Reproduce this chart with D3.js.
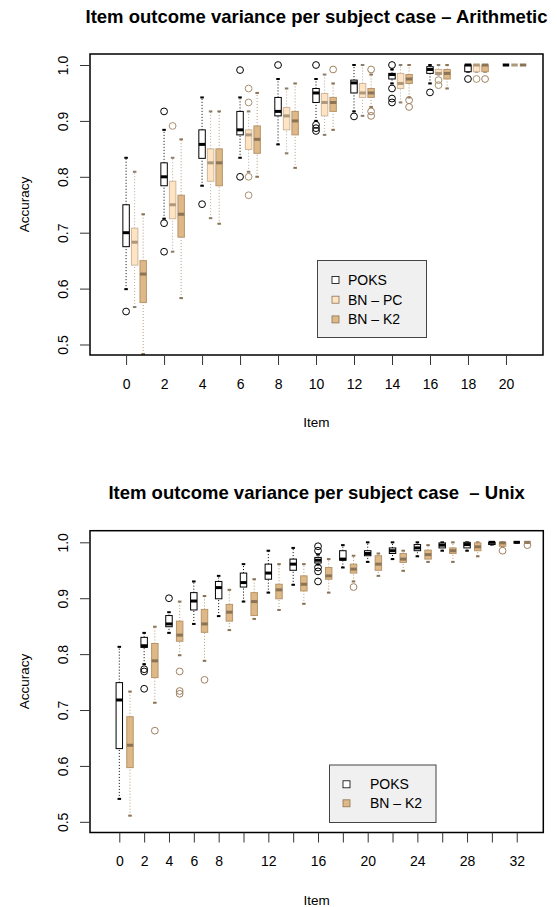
<!DOCTYPE html>
<html><head><meta charset="utf-8">
<script src="https://cdn.jsdelivr.net/npm/d3@7"></script>
<style>
body{margin:0;background:#fff}
svg{display:block;font-family:"Liberation Sans",Arial,Helvetica,sans-serif}
</style>
</head><body>
<svg id="chart" width="557" height="907"></svg>
<script>
// ---------- Arithmetic panel data: [lowWhisker, Q1, median, Q3, highWhisker]
const arithItems = [0,2,4,6,8,10,12,14,16,18,20];
const arithTicks = [0,2,4,6,8,10,12,14,16,18,20];
const arithPOKS = [
  [0.599,0.675,0.700,0.750,0.834],[0.725,0.784,0.800,0.825,0.884],[0.784,0.833,0.858,0.884,0.942],
  [0.834,0.875,0.884,0.917,0.942],[0.858,0.909,0.917,0.942,0.975],[0.900,0.933,0.950,0.958,0.975],
  [0.917,0.950,0.968,0.973,1.000],[0.967,0.975,0.983,0.985,0.992],[0.967,0.985,0.992,0.997,1.000],
  [0.988,0.988,1.000,1.000,1.000],[1,1,1,1,1]];
const arithPOKSOut = [[0.559],[0.917,0.717,0.666],[0.751],[0.991,0.800],[1.0],[1.0,0.893,0.887,0.882],
  [0.908],[1.0,0.958,0.940,0.933],[0.951],[0.975],[]];
const arithPC = [
  [0.567,0.642,0.683,0.708,0.809],[0.666,0.725,0.750,0.792,0.834],[0.726,0.792,0.825,0.850,0.917],
  [0.809,0.849,0.875,0.884,0.917],[0.842,0.884,0.909,0.924,0.958],[0.875,0.909,0.933,0.949,0.983],
  [0.909,0.942,0.950,0.967,1.000],[0.933,0.958,0.967,0.985,1.000],[0.983,0.983,0.985,0.992,1.000],
  [0.988,0.988,1.000,1.000,1.000],[1,1,1,1,1]];
const arithPCOut = [[],[0.891],[],[0.958,0.933,0.800,0.767],[],[],[],[],[0.973,0.964],[0.975],[]];
const arithK2 = [
  [0.483,0.575,0.626,0.650,0.733],[0.583,0.692,0.733,0.767,0.867],[0.716,0.784,0.825,0.850,0.917],
  [0.800,0.842,0.867,0.891,0.950],[0.816,0.875,0.900,0.917,0.967],[0.884,0.917,0.933,0.942,0.967],
  [0.925,0.942,0.950,0.958,0.983],[0.942,0.967,0.975,0.983,1.000],[0.958,0.975,0.985,0.992,1.000],
  [0.988,0.988,1.000,1.000,1.000],[1,1,1,1,1]];
const arithK2Out = [[],[],[],[],[],[0.992],[0.992,0.917,0.909],[0.937,0.925],[],[0.975],[]];

// ---------- Unix panel data
const unixItems = [0,2,4,6,8,10,12,14,16,18,20,22,24,26,28,30,32];
const unixTicks = [0,2,4,6,8,10,12,14,16,18,20,22,24,26,28,30,32];
const unixTickLabels = [0,2,4,6,8,12,16,20,24,28,32];
const unixPOKS = [
  [0.541,0.631,0.718,0.749,0.813],[0.782,0.812,0.815,0.830,0.838],[0.838,0.849,0.854,0.869,0.875],
  [0.854,0.879,0.895,0.910,0.930],[0.868,0.899,0.919,0.930,0.940],[0.894,0.920,0.928,0.945,0.961],
  [0.910,0.934,0.945,0.961,0.985],[0.924,0.950,0.961,0.970,0.990],[0.960,0.963,0.968,0.973,0.978],
  [0.955,0.968,0.970,0.985,0.995],[0.965,0.976,0.980,0.985,1.000],[0.970,0.980,0.985,0.990,1.000],
  [0.975,0.985,0.990,0.996,1.000],[0.985,0.990,0.995,0.999,1.000],[0.985,0.990,0.996,1.000,1.000],
  [0.996,0.996,1.000,1.000,1.000],[1,1,1,1,1]];
const unixPOKSOut = [[],[0.773,0.769,0.738],[0.900],[],[],[],[],[],[0.993,0.985,0.955,0.948,0.930],
  [],[],[],[],[],[],[],[]];
const unixK2 = [
  [0.511,0.597,0.637,0.688,0.733],[0.713,0.758,0.788,0.819,0.849],[0.798,0.823,0.834,0.859,0.894],
  [0.788,0.839,0.854,0.880,0.904],[0.843,0.859,0.875,0.889,0.915],[0.863,0.869,0.894,0.910,0.934],
  [0.879,0.899,0.915,0.925,0.961],[0.890,0.913,0.925,0.940,0.961],[0.910,0.934,0.940,0.955,0.970],
  [0.930,0.945,0.952,0.961,0.976],[0.940,0.950,0.961,0.976,0.980],[0.949,0.964,0.970,0.980,0.985],
  [0.965,0.970,0.978,0.986,0.995],[0.965,0.980,0.985,0.990,1.000],[0.975,0.985,0.992,0.999,1.000],
  [0.993,0.993,0.999,1.000,1.000],[1,1,1,1,1]];
const unixK2Out = [[],[0.663],[0.769,0.734,0.729],[0.754],[],[],[],[],[],[0.920],[],[],[],[],[],[0.985],[0.995]];

const yTicks = [0.5,0.6,0.7,0.8,0.9,1.0];

// ---------- styles
const STY = {
  poks:{fill:"#ffffff",stroke:"#000000",med:"#000000",wh:"#000000",cap:"#000000",out:"#000000"},
  pc:{fill:"#FFE4C4",stroke:"#CDB79E",med:"#AD987C",wh:"#BBAA92",cap:"#8B7D6B",out:"#A8906F"},
  k2:{fill:"#DEB887",stroke:"#B8956A",med:"#8B7355",wh:"#B29A7A",cap:"#8B7355",out:"#A08060"}
};

const svg = d3.select("#chart");

function drawPanel(o){
  const g = svg.append("g");
  const x = d3.scaleLinear().domain(o.xDomain).range([o.left,o.right]);
  const y = d3.scaleLinear().domain(o.yDomain).range([o.bottom,o.top]);
  o.series.forEach(s=>{
    const st = STY[s.key];
    const rows = s.stats.map((d,i)=>({it:o.items[i], d, out:s.out[i]}));
    const cx = r => x(r.it + s.off);
    const hw = (x(o.boxW) - x(0))/2;
    const sg = g.append("g");
    sg.selectAll("line.wl").data(rows).join("line").attr("class","wl")
      .attr("x1",cx).attr("x2",cx).attr("y1",r=>y(r.d[0])).attr("y2",r=>y(r.d[1]))
      .attr("stroke",st.wh).attr("stroke-dasharray","1,2");
    sg.selectAll("line.wh").data(rows).join("line").attr("class","wh")
      .attr("x1",cx).attr("x2",cx).attr("y1",r=>y(r.d[3])).attr("y2",r=>y(r.d[4]))
      .attr("stroke",st.wh).attr("stroke-dasharray","1,2");
    [0,4].forEach(k=>{
      sg.selectAll("line.cap"+k).data(rows).join("line").attr("class","cap"+k)
        .attr("x1",r=>cx(r)-hw*0.55).attr("x2",r=>cx(r)+hw*0.55)
        .attr("y1",r=>y(r.d[k])).attr("y2",r=>y(r.d[k]))
        .attr("stroke",st.cap).attr("stroke-width",2);
    });
    sg.selectAll("rect").data(rows).join("rect")
      .attr("x",r=>cx(r)-hw).attr("width",hw*2)
      .attr("y",r=>y(r.d[3])).attr("height",r=>y(r.d[1])-y(r.d[3]))
      .attr("fill",st.fill).attr("stroke",st.stroke).attr("stroke-width",1);
    sg.selectAll("line.md").data(rows).join("line").attr("class","md")
      .attr("x1",r=>cx(r)-hw).attr("x2",r=>cx(r)+hw)
      .attr("y1",r=>y(r.d[2])).attr("y2",r=>y(r.d[2]))
      .attr("stroke",st.med).attr("stroke-width",3);
    const outs = rows.flatMap(r=>r.out.map(v=>({it:r.it,v})));
    sg.selectAll("circle").data(outs).join("circle")
      .attr("cx",r=>x(r.it+s.off)).attr("cy",r=>y(r.v)).attr("r",3.4)
      .attr("fill","none").attr("stroke",st.out).attr("stroke-width",1);
  });
  g.append("rect").attr("x",o.left).attr("y",o.top).attr("width",o.right-o.left).attr("height",o.bottom-o.top)
    .attr("fill","none").attr("stroke","#000").attr("stroke-width",1.5);
  const labs = new Set(o.tickLabels);
  const ax = g.append("g").attr("transform",`translate(0,${o.bottom})`)
    .call(d3.axisBottom(x).tickValues(o.ticks).tickSize(10).tickPadding(14)
      .tickFormat(d=>labs.has(d)?String(d):""));
  ax.select(".domain").remove();
  ax.selectAll("line").attr("stroke","#333");
  ax.selectAll("text").attr("font-size",14).attr("fill","#000").attr("font-family",null);
  const ay = g.append("g").attr("transform",`translate(${o.left},0)`)
    .call(d3.axisLeft(y).tickValues(yTicks).tickSize(10).tickFormat(d3.format(".1f")));
  ay.select(".domain").remove();
  ay.selectAll("line").attr("stroke","#333");
  ay.selectAll("text").attr("x",null).attr("dy",null).attr("text-anchor","middle")
    .attr("transform","translate(-22.5,0) rotate(-90)").attr("font-size",14).attr("fill","#000").attr("font-family",null);
  g.append("text").attr("x",(o.left+o.right)/2).attr("y",o.titleY).attr("text-anchor","middle")
    .attr("font-weight","bold").attr("font-size",18.5).style("white-space","pre").text(o.title);
  g.append("text").attr("x",(o.left+o.right)/2).attr("y",o.bottom+72).attr("text-anchor","middle")
    .attr("font-size",13.5).text("Item");
  g.append("text").attr("transform",`translate(29,${(o.top+o.bottom)/2}) rotate(-90)`).attr("text-anchor","middle")
    .attr("font-size",13.5).text("Accuracy");
  const L = o.legend;
  const lg = g.append("g");
  lg.append("rect").attr("x",L.x).attr("y",L.y).attr("width",L.w).attr("height",L.h)
    .attr("fill","#F0F0F0").attr("stroke","#444").attr("stroke-width",1);
  o.series.forEach((s,i)=>{
    const cy = L.y + L.first + i*L.step;
    lg.append("rect").attr("x",L.sx).attr("y",cy-3.5).attr("width",7).attr("height",7)
      .attr("fill",STY[s.key].fill).attr("stroke",s.key==="poks"?"#000":"#8B7355").attr("stroke-width",0.8);
    lg.append("text").attr("x",L.tx).attr("y",cy+5).attr("font-size",14).text(s.name);
  });
}

drawPanel({
  left:90,right:543,top:54,bottom:355,
  xDomain:[-1.9,21.95], yDomain:[0.4812,1.0197],
  items:arithItems, ticks:arithTicks, tickLabels:arithTicks, boxW:0.34,
  title:"Item outcome variance per subject case – Arithmetic", titleY:23,
  series:[
    {key:"poks",name:"POKS",stats:arithPOKS,out:arithPOKSOut,off:0},
    {key:"pc",name:"BN – PC",stats:arithPC,out:arithPCOut,off:0.45},
    {key:"k2",name:"BN – K2",stats:arithK2,out:arithK2Out,off:0.9}],
  legend:{x:317.5,y:260.5,w:109,h:77,sx:332,tx:348,first:19.5,step:19.7}
});

drawPanel({
  left:90,right:543.3,top:530.7,bottom:832.5,
  xDomain:[-2.36,34.14], yDomain:[0.4809,1.0208],
  items:unixItems, ticks:unixTicks, tickLabels:unixTickLabels, boxW:0.52,
  title:"Item outcome variance per subject case  – Unix", titleY:499,
  series:[
    {key:"poks",name:"POKS",stats:unixPOKS,out:unixPOKSOut,off:0},
    {key:"k2",name:"BN – K2",stats:unixK2,out:unixK2Out,off:0.86}],
  legend:{x:329.5,y:765,w:106.5,h:57.5,sx:343,tx:370,first:19.3,step:19}
});
</script>
</body></html>
